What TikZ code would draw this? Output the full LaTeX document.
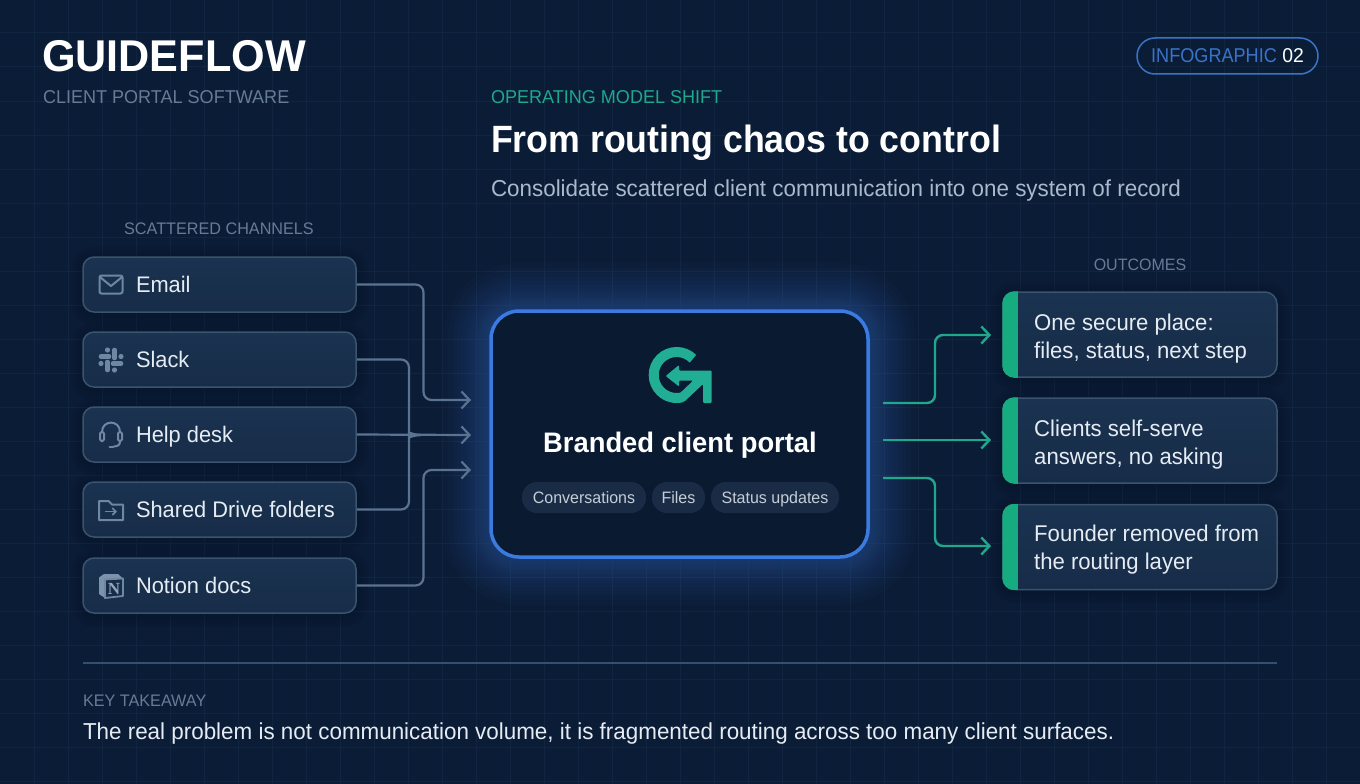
\documentclass[tikz,border=0pt]{standalone}
\usepackage{fontspec}
\setmainfont{Liberation Sans}[FakeStretch=0.97]
\newfontfamily\boldf{Liberation Sans Bold}[FakeStretch=0.97]
\newfontfamily\titlef{Liberation Sans Bold}[FakeStretch=0.94]
\newfontfamily\pillf{Liberation Sans}[FakeStretch=0.905]
\usetikzlibrary{arrows.meta,calc}
\definecolor{bgc}{HTML}{0B1C36}
\definecolor{gridc}{HTML}{112540}
\definecolor{cardtop}{HTML}{1A3350}
\definecolor{cardbot}{HTML}{172C48}
\definecolor{cardline}{HTML}{3A536E}
\definecolor{iconc}{HTML}{6F87A3}
\definecolor{wirec}{HTML}{5A7390}
\definecolor{muted}{HTML}{667C95}
\definecolor{bodyc}{HTML}{E6ECF3}
\definecolor{subc}{HTML}{A9B9CC}
\definecolor{teal}{HTML}{1FA88C}
\definecolor{logoc}{HTML}{22AE95}
\definecolor{barc}{HTML}{17AB80}
\definecolor{blueb}{HTML}{3B7BE0}
\definecolor{pillb}{HTML}{3A74C8}
\definecolor{chipc}{HTML}{1A2C45}
\definecolor{portalc}{HTML}{0A1A31}
\definecolor{divc}{HTML}{33506F}
\definecolor{shadowc}{HTML}{040C1A}
\newcommand\pxf[2]{\fontsize{#1}{#2}\selectfont}
\tikzset{
  txt/.style={inner sep=0pt,outer sep=0pt,anchor=base west},
  chan/.style={draw=cardline,line width=1.5pt,rounded corners=11pt,top color=cardtop,bottom color=cardbot,minimum width=273pt,minimum height=55pt,inner sep=0pt},
  outc/.style={draw=cardline,line width=1.5pt,rounded corners=12pt,top color=cardtop,bottom color=cardbot,minimum width=274pt,minimum height=85pt,inner sep=0pt},
  chanlabel/.style={txt,text=bodyc,font=\pxf{22.5}{22.5}},
  outlabel/.style={inner sep=0pt,anchor=west,align=left,text=bodyc,font=\pxf{22.8}{28}},
  chip/.style={fill=chipc,rounded corners=15pt,minimum height=31pt,inner sep=0pt,text height=12pt,text depth=1pt,text=bodyc!85!bgc,font=\pxf{16.5}{16.5}},
  wire/.style={draw=wirec,line width=2.2pt,rounded corners=8pt},
  wirein/.style={wire,-{Straight Barb[length=8pt,width=17pt,line width=2.2pt]}},
  wireout/.style={draw=teal,line width=2.4pt,rounded corners=8pt,-{Straight Barb[length=8pt,width=17pt,line width=2.4pt]}},
  icon/.style={draw=iconc,line width=2pt,line cap=round,line join=round},
  cardshade/.style={fill=shadowc,opacity=0.07},
}
\begin{document}
\begin{tikzpicture}[x=1pt,y=-1pt]
\useasboundingbox (0,0) rectangle (1360,784);
\fill[bgc] (0,0) rectangle (1360,784);
\foreach \i in {34,68,...,1360} \draw[gridc,line width=1pt] (\i,0) -- (\i,784);
\foreach \i in {33,67,...,784} \draw[gridc,line width=1pt] (0,\i) -- (1360,\i);

% header
\node[txt,text=white,font=\boldf\pxf{44.5}{44.5}] (brand) at (42,72) {GUIDEFLOW};
\node[txt,text=muted,font=\pxf{18.6}{18.6}] (brandsub) at (43,103) {CLIENT PORTAL SOFTWARE};
\node[draw=pillb,line width=1.5pt,rounded corners=18pt,minimum width=181pt,minimum height=36pt,inner sep=0pt,font=\pxf{20}{20}] (pill) at (1227.5,56) {\textcolor{pillb}{\pillf INFOGRAPHIC} \textcolor{white}{02}};
\node[txt,text=teal,font=\pxf{18.6}{18.6}] (kicker) at (491,103) {OPERATING MODEL SHIFT};
\node[txt,text=white,font=\titlef\pxf{38}{38}] (title) at (491,152) {From routing chaos to control};
\node[txt,text=subc,font=\pxf{23.1}{23.1}] (subtitle) at (491,196) {Consolidate scattered client communication into one system of record};

% glow
\foreach \r in {1,2,3,4,6,8,10,12,14,17,20,23,26,30,34,38,43,48}
  \fill[blueb,opacity=0.027,rounded corners={(28+\r)*1pt}] ({491-\r},{311-\r}) rectangle ({868+\r},{557+\r});

% soft shadows under the cards
\foreach \y in {257,332,407,482,558}
  \foreach \r in {3,6,9,12}
    \fill[cardshade,rounded corners={(11+\r)*1pt}] ({83-\r},{\y-\r+2}) rectangle ({356+\r},{\y+55+\r+2});
\foreach \y in {292,398,504}
  \foreach \r in {3,6,9,12}
    \fill[cardshade,rounded corners={(12+\r)*1pt}] ({1003-\r},{\y-\r+2}) rectangle ({1277+\r},{\y+85+\r+2});

% left column
\node[txt,anchor=base,text=muted,font=\pxf{16.7}{16.7}] (chanhead) at (219,234) {SCATTERED CHANNELS};
\node[chan] (email) at (219.5,284.5) {};
\node[chan] (slack) at (219.5,359.5) {};
\node[chan] (help) at (219.5,434.5) {};
\node[chan] (drive) at (219.5,509.5) {};
\node[chan] (notion) at (219.5,585.5) {};
\node[chanlabel] (emailt) at (136,292.5) {Email};
\node[chanlabel] (slackt) at (136,367.5) {Slack};
\node[chanlabel] (helpt) at (136,442.5) {Help desk};
\node[chanlabel] (drivet) at (136,517.5) {Shared Drive folders};
\node[chanlabel] (notiont) at (136,593.5) {Notion docs};

% icons
\draw[icon,rounded corners=2pt] (99.5,275.5) rectangle (122.5,293.5);
\draw[icon] (100.5,277.5) -- (111,286) -- (121.5,277.5);
\begin{scope}[shift={(111,360)},line cap=round]
  \draw[iconc,line width=4.6pt] (-10,-3.5) -- (-2,-3.5);
  \draw[iconc,line width=4.6pt] (3.5,-10) -- (3.5,-2);
  \draw[iconc,line width=4.6pt] (2,3.5) -- (10,3.5);
  \draw[iconc,line width=4.6pt] (-3.5,2) -- (-3.5,10);
  \fill[iconc] (-3.5,-10) circle[radius=2.6pt] (10,-3.5) circle[radius=2.6pt] (3.5,10) circle[radius=2.6pt] (-10,3.5) circle[radius=2.6pt];
\end{scope}
\draw[icon] (102,432) .. controls (102,419.5) and (120,419.5) .. (120,432);
\draw[icon,rounded corners=1.5pt] (100,432) rectangle (104,441);
\draw[icon,rounded corners=1.5pt] (118,432) rectangle (122,441);
\draw[icon] (120,441) .. controls (120,445.5) and (118,446) .. (114,446.5);
\draw[icon] (109.5,446.5) -- (113.5,446.5);
\draw[icon] (99,501) -- (108.5,501) -- (112,504.5) -- (123,504.5) -- (123,520) -- (99,520) -- cycle;
\draw[iconc,line width=1.6pt,-{Straight Barb[length=3.5pt,width=7pt,line width=1.6pt]}] (105,511.5) -- (117,511.5);
\fill[iconc!90!white] (99,577.5) -- (104,574) -- (118,574) -- (123,578.5) -- (105,579.5) -- (105,598) -- (99,594) -- cycle;
\draw[iconc,line width=1.8pt,line join=round,fill=cardbot] (105,579.5) -- (123,578.5) -- (123,596) -- (105,598) -- cycle;
\node[inner sep=0pt,text=iconc!75!white,font={\fontspec{Liberation Serif}\bfseries\pxf{17}{17}}] (notionN) at (114,588.5) {N};

% left connectors
\coordinate (busA) at (423.5,400);
\coordinate (busB) at (409,435);
\coordinate (in1) at (471,400);
\coordinate (in2) at (471,435);
\coordinate (in3) at (471,470);
\coordinate (merge) at (421,435);
\draw[wirein] (email.east) -- (email.east -| busA) -- (in1 -| busA) -- (in1);
\draw[wirein] (notion.east) -- (notion.east -| busA) -- (in3 -| busA) -- (in3);
\draw[wire] (slack.east) -- (slack.east -| busB) -- ($(busB)+(0,-10)$) {[rounded corners=0pt] .. controls ($(busB)+(0,-3)$) and ($(busB)+(5,0)$) .. (merge)};
\draw[wire] (drive.east) -- (drive.east -| busB) -- ($(busB)+(0,10)$) {[rounded corners=0pt] .. controls ($(busB)+(0,3)$) and ($(busB)+(5,0)$) .. (merge)};
\draw[wirein] (help.east) -- (in2);

% portal
\node[draw=blueb,line width=3.5pt,fill=portalc,rounded corners=28pt,minimum width=377pt,minimum height=246pt,inner sep=0pt] (portal) at (679.5,434) {};
% logo
\coordinate (logo) at (676.7,375);
\draw[logoc,line width=10pt] ([shift={(45:23pt)}]logo) arc[start angle=45,end angle=285,radius=23pt];
\fill[logoc,line join=round,rounded corners=1pt] (665.7,376) -- (679,365) -- (679,370.7) -- (711.7,370.7) -- (711.7,403) -- (703,403) -- (703,384) -- (684,402) -- (677,396) -- (693,380.7) -- (679,380.7) -- (679,386.5) -- cycle;
\node[inner sep=0pt,anchor=base,text=white,font=\boldf\pxf{28.2}{28.2}] (portalt) at (680,452) {Branded client portal};
\node[chip,minimum width=124pt] (c1) at (584,497.5) {Conversations};
\node[chip,minimum width=53pt] (c2) at (678.5,497.5) {Files};
\node[chip,minimum width=128pt] (c3) at (775,497.5) {Status updates};

% right column
\node[txt,anchor=base,text=muted,font=\pxf{16.5}{16.5}] (outhead) at (1140,270) {OUTCOMES};
\node[outc] (o1) at (1140,334.5) {};
\node[outc] (o2) at (1140,440.5) {};
\node[outc] (o3) at (1140,547) {};
\foreach \n in {o1,o2,o3}{
  \begin{scope}
    \clip[rounded corners=12pt] (\n.south west) rectangle (\n.north east);
    \fill[barc] (\n.south west) rectangle ($(\n.north west)+(16,0)$);
  \end{scope}
}
\node[outlabel] (o1t) at (1034,338.5) {One secure place:\\files, status, next step};
\node[outlabel] (o2t) at (1034,444.5) {Clients self-serve\\answers, no asking};
\node[outlabel] (o3t) at (1034,550) {Founder removed from\\the routing layer};

% right connectors
\coordinate (s1) at (883,403);
\coordinate (s2) at (883,440);
\coordinate (s3) at (883,478);
\coordinate (e1) at (991,335);
\coordinate (e2) at (991,440);
\coordinate (e3) at (991,546);
\coordinate (busC) at (935,440);
\draw[wireout] (s1) -- (s1 -| busC) -- (e1 -| busC) -- (e1);
\draw[wireout] (s2) -- (e2);
\draw[wireout] (s3) -- (s3 -| busC) -- (e3 -| busC) -- (e3);

% footer
\coordinate (d1) at (83,663);
\coordinate (d2) at (1277,663);
\draw[divc,line width=1.5pt] (d1) -- (d2);
\node[txt,text=muted,font=\pxf{16.7}{16.7}] (keyt) at (83,706) {KEY TAKEAWAY};
\node[txt,text=bodyc,font=\pxf{23.1}{23.1}] (takeaway) at (83,739) {The real problem is not communication volume, it is fragmented routing across too many client surfaces.};
\end{tikzpicture}
\end{document}
